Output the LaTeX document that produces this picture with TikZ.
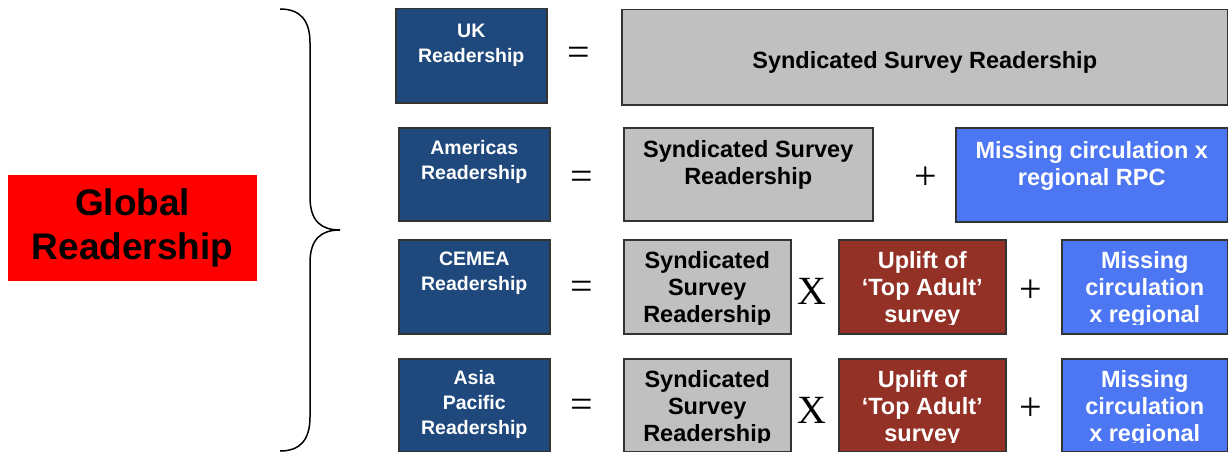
\documentclass[tikz,border=0pt]{standalone}
\usepackage{fontspec}
\usepackage{tikz}
\usetikzlibrary{positioning}
\newfontfamily\arialfont{Liberation Sans}
\newfontfamily\timesfont{Liberation Serif}
\definecolor{regionblue}{HTML}{1F497D}
\definecolor{surveygrey}{HTML}{C0C0C0}
\definecolor{missblue}{HTML}{4D76F3}
\definecolor{upliftred}{HTML}{933126}

\begin{document}
\begin{tikzpicture}[x=1pt, y=-1pt,
      every node/.append style={inner sep=0pt},
      box/.style={draw=black!80, line width=1.5pt, anchor=north west},
      region/.style={box, fill=regionblue, minimum width=151},
      survey/.style={box, fill=surveygrey},
      missing/.style={box, fill=missblue},
      uplift/.style={box, fill=upliftred, minimum width=167},
      lbl/.style={anchor=north, align=center, text=white,
        font=\arialfont\bfseries\fontsize{19.5}{25}\selectfont},
      txt/.style={anchor=north, align=center,
        font=\arialfont\bfseries\fontsize{23.5}{27}\selectfont},
      op/.style={font=\timesfont\fontsize{40}{40}\selectfont}]
    \useasboundingbox (0,0) rectangle (1228,452);

    % whole thing
    \node[fill=red, anchor=north west, minimum width=249, minimum height=106, align=center,
      font=\arialfont\bfseries\fontsize{37}{44}\selectfont] (global) at (8,175) {Global\\Readership};
    \draw[line width=1.5pt] (280,9) .. controls (300,9) and (310,20) .. (310,43) -- (310,197)
      .. controls (310,222) and (322,230) .. (340,230)
      .. controls (322,230) and (310,238) .. (310,263) -- (310,417)
      .. controls (310,440) and (300,451) .. (280,451);

    % UK
    \node[region, minimum height=94] (uk) at (395,8) {};
    \node[lbl] (uk-t) at (uk.north) {\rule{0pt}{29pt}UK\\Readership};
    \node[op] (eq-uk) at (579,56) {=};
    \node[survey, minimum width=606, minimum height=95] (uk-syn) at (621,9) {};
    \node[txt] (uk-syn-t) at (uk-syn.north) {\rule{0pt}{59pt}Syndicated Survey Readership};

    % Americas
    \node[region, minimum height=93] (amer) at (398,127) {};
    \node[lbl] (amer-t) at (amer.north) {\rule{0pt}{27pt}Americas\\Readership};
    \node[op] (eq-amer) at (582,180) {=};
    \node[survey, minimum width=249, minimum height=93] (amer-syn) at (623,127) {};
    \node[txt] (amer-syn-t) at (amer-syn.north) {\rule{0pt}{30pt}Syndicated Survey\\Readership};
    \node[op] (plus-amer) at (926,178) {+};
    \node[missing, minimum width=272, minimum height=94] (amer-miss) at (955,127) {};
    \node[txt, text=white] (amer-miss-t) at (amer-miss.north) {\rule{0pt}{31pt}Missing circulation x\\regional RPC};

    % CEMEA
    \node[region, minimum height=94] (cemea) at (398,239) {};
    \node[lbl] (cemea-t) at (cemea.north) {\rule{0pt}{26pt}CEMEA\\Readership};
    \node[op] (eq-cemea) at (582,290) {=};
    \node[survey, minimum width=167, minimum height=94] (cemea-syn) at (623,239) {};
    \node[op] (x-cemea) at (812,291) {X};
    \node[uplift, minimum height=94] (cemea-up) at (838,239) {};
    \node[op] (plus-cemea) at (1031,291) {+};
    \node[missing, minimum width=166, minimum height=94] (cemea-miss) at (1061,239) {};
    \begin{scope}
      \clip (600,239) rectangle (1228,324);
      \node[txt] (cemea-syn-t) at (cemea-syn.north) {\rule{0pt}{29pt}Syndicated\\Survey\\Readership};
      \node[txt, text=white] (cemea-up-t) at (cemea-up.north) {\rule{0pt}{29pt}Uplift of\\‘Top Adult’\\survey};
      \node[txt, text=white] (cemea-miss-t) at (cemea-miss.north) {\rule{0pt}{29pt}Missing\\circulation\\x regional};
    \end{scope}

    % Asia Pacific
    \node[region, minimum height=93] (asia) at (398,358) {};
    \node[lbl] (asia-t) at (asia.north) {\rule{0pt}{26pt}Asia\\Pacific\\Readership};
    \node[op] (eq-asia) at (582,408) {=};
    \node[survey, minimum width=167, minimum height=93] (asia-syn) at (623,358) {};
    \node[op] (x-asia) at (812,410) {X};
    \node[uplift, minimum height=93] (asia-up) at (838,358) {};
    \node[op] (plus-asia) at (1031,409) {+};
    \node[missing, minimum width=166, minimum height=93] (asia-miss) at (1061,358) {};
    \begin{scope}
      \clip (600,358) rectangle (1228,442);
      \node[txt] (asia-syn-t) at (asia-syn.north) {\rule{0pt}{29pt}Syndicated\\Survey\\Readership};
      \node[txt, text=white] (asia-up-t) at (asia-up.north) {\rule{0pt}{29pt}Uplift of\\‘Top Adult’\\survey};
      \node[txt, text=white] (asia-miss-t) at (asia-miss.north) {\rule{0pt}{29pt}Missing\\circulation\\x regional};
    \end{scope}
\end{tikzpicture}
\end{document}
